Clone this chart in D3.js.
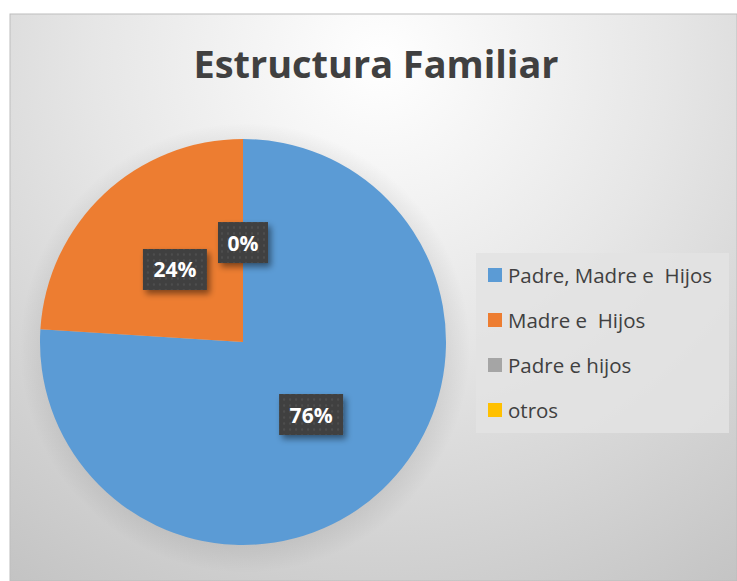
<!DOCTYPE html>
<html>
<head>
<meta charset="utf-8">
<script src="https://cdn.jsdelivr.net/npm/d3@7"></script>
<style>
  body { margin: 0; background: #fff; }
  svg { display: block; }
</style>
</head>
<body>
<div id="chart"></div>
<script>
// data
let categories = ['Padre, Madre e  Hijos', 'Madre e  Hijos', 'Padre e hijos', 'otros'];
let values = [76, 24, 0, 0];
let colors = ['#5b9bd5', '#ed7d31', '#a5a5a5', '#ffc000'];
let label_shown = [true, true, true, false];

let width = 737, height = 581;
let font = '"Open Sans", "DejaVu Sans", sans-serif';

let svg = d3.select('#chart').append('svg').attr('width', width).attr('height', height);
let defs = svg.append('defs');

// chart area background
let bg = defs.append('radialGradient').attr('id', 'bg')
  .attr('gradientUnits', 'userSpaceOnUse')
  .attr('cx', 380).attr('cy', 60).attr('r', 640);
bg.append('stop').attr('offset', '0%').attr('stop-color', '#ffffff');
bg.append('stop').attr('offset', '45%').attr('stop-color', '#e6e6e6');
bg.append('stop').attr('offset', '100%').attr('stop-color', '#c3c3c3');

let pie_shadow = defs.append('radialGradient').attr('id', 'pieshadow');
pie_shadow.append('stop').attr('offset', '80%').attr('stop-color', '#000').attr('stop-opacity', 0.12);
pie_shadow.append('stop').attr('offset', '100%').attr('stop-color', '#000').attr('stop-opacity', 0);

let dots = defs.append('pattern').attr('id', 'dots')
  .attr('patternUnits', 'userSpaceOnUse').attr('width', 6).attr('height', 6);
dots.append('rect').attr('width', 6).attr('height', 6).attr('fill', '#404040');
dots.append('circle').attr('cx', 3).attr('cy', 3).attr('r', 1.2).attr('fill', '#4e4e4e');

let drop = defs.append('filter').attr('id', 'drop')
  .attr('x', '-30%').attr('y', '-30%').attr('width', '170%').attr('height', '180%');
drop.append('feDropShadow').attr('dx', 3).attr('dy', 4).attr('stdDeviation', 3)
  .attr('flood-color', '#000').attr('flood-opacity', 0.45);

svg.append('rect').attr('x', 10).attr('y', 14).attr('width', width - 10).attr('height', height - 14)
  .attr('fill', 'url(#bg)').attr('stroke', '#bdbdbd').attr('stroke-width', 1);

// title
svg.append('text').attr('x', 376).attr('y', 78)
  .attr('text-anchor', 'middle')
  .attr('font-family', font).attr('font-weight', 700).attr('font-size', 37)
  .attr('textLength', 365).attr('lengthAdjust', 'spacingAndGlyphs')
  .attr('fill', '#404040').text('Estructura Familiar');

// pie
let cx = 243, cy = 342, radius = 203;
let pie = d3.pie().sort(null).value(d => d)(values);
let arc = d3.arc().innerRadius(0).outerRadius(radius);

svg.append('circle').attr('cx', cx + 2).attr('cy', cy + 6).attr('r', radius + 22)
  .attr('fill', 'url(#pieshadow)');

let g = svg.append('g').attr('transform', 'translate(' + cx + ',' + cy + ')');
g.selectAll('.slice').data(pie).enter().append('path').attr('class', 'slice')
  .attr('d', arc)
  .attr('fill', (d, i) => colors[i]);

// data labels
let label_arc = d3.arc().innerRadius(radius * 0.49).outerRadius(radius * 0.49);
let total = d3.sum(values);
let labels = g.selectAll('.lbl').data(pie.filter((d, i) => label_shown[i])).enter()
  .append('g').attr('class', 'lbl')
  .attr('transform', d => 'translate(' + label_arc.centroid(d) + ')');
labels.each(function(d){
  let txt = Math.round(d.value / total * 100) + '%';
  let w = txt.length > 2 ? 64 : 50;
  let h = 41;
  let lab = d3.select(this);
  lab.append('rect').attr('x', -w / 2).attr('y', -h / 2).attr('width', w).attr('height', h)
    .attr('fill', 'url(#dots)').attr('filter', 'url(#drop)');
  lab.append('text').attr('y', 8).attr('text-anchor', 'middle')
    .attr('font-family', font).attr('font-weight', 700).attr('font-size', 21)
    .attr('fill', '#ffffff').text(txt);
});

// legend
let legend = svg.append('g').attr('transform', 'translate(476,253)');
legend.append('rect').attr('width', 253).attr('height', 180).attr('fill', '#e3e3e3').attr('opacity', 0.85);
let row_y = d3.scalePoint().domain(categories).range([22, 157]);
let items = legend.selectAll('.item').data(categories).enter().append('g').attr('class', 'item')
  .attr('transform', d => 'translate(12,' + row_y(d) + ')');
items.append('rect').attr('y', -7).attr('width', 14).attr('height', 14)
  .attr('fill', (d, i) => colors[i]);
items.append('text').attr('x', 20).attr('y', 7.5)
  .attr('font-family', font).attr('font-size', 20.5).attr('fill', '#404040')
  .style('white-space', 'pre')
  .text(d => d);
</script>
</body>
</html>
